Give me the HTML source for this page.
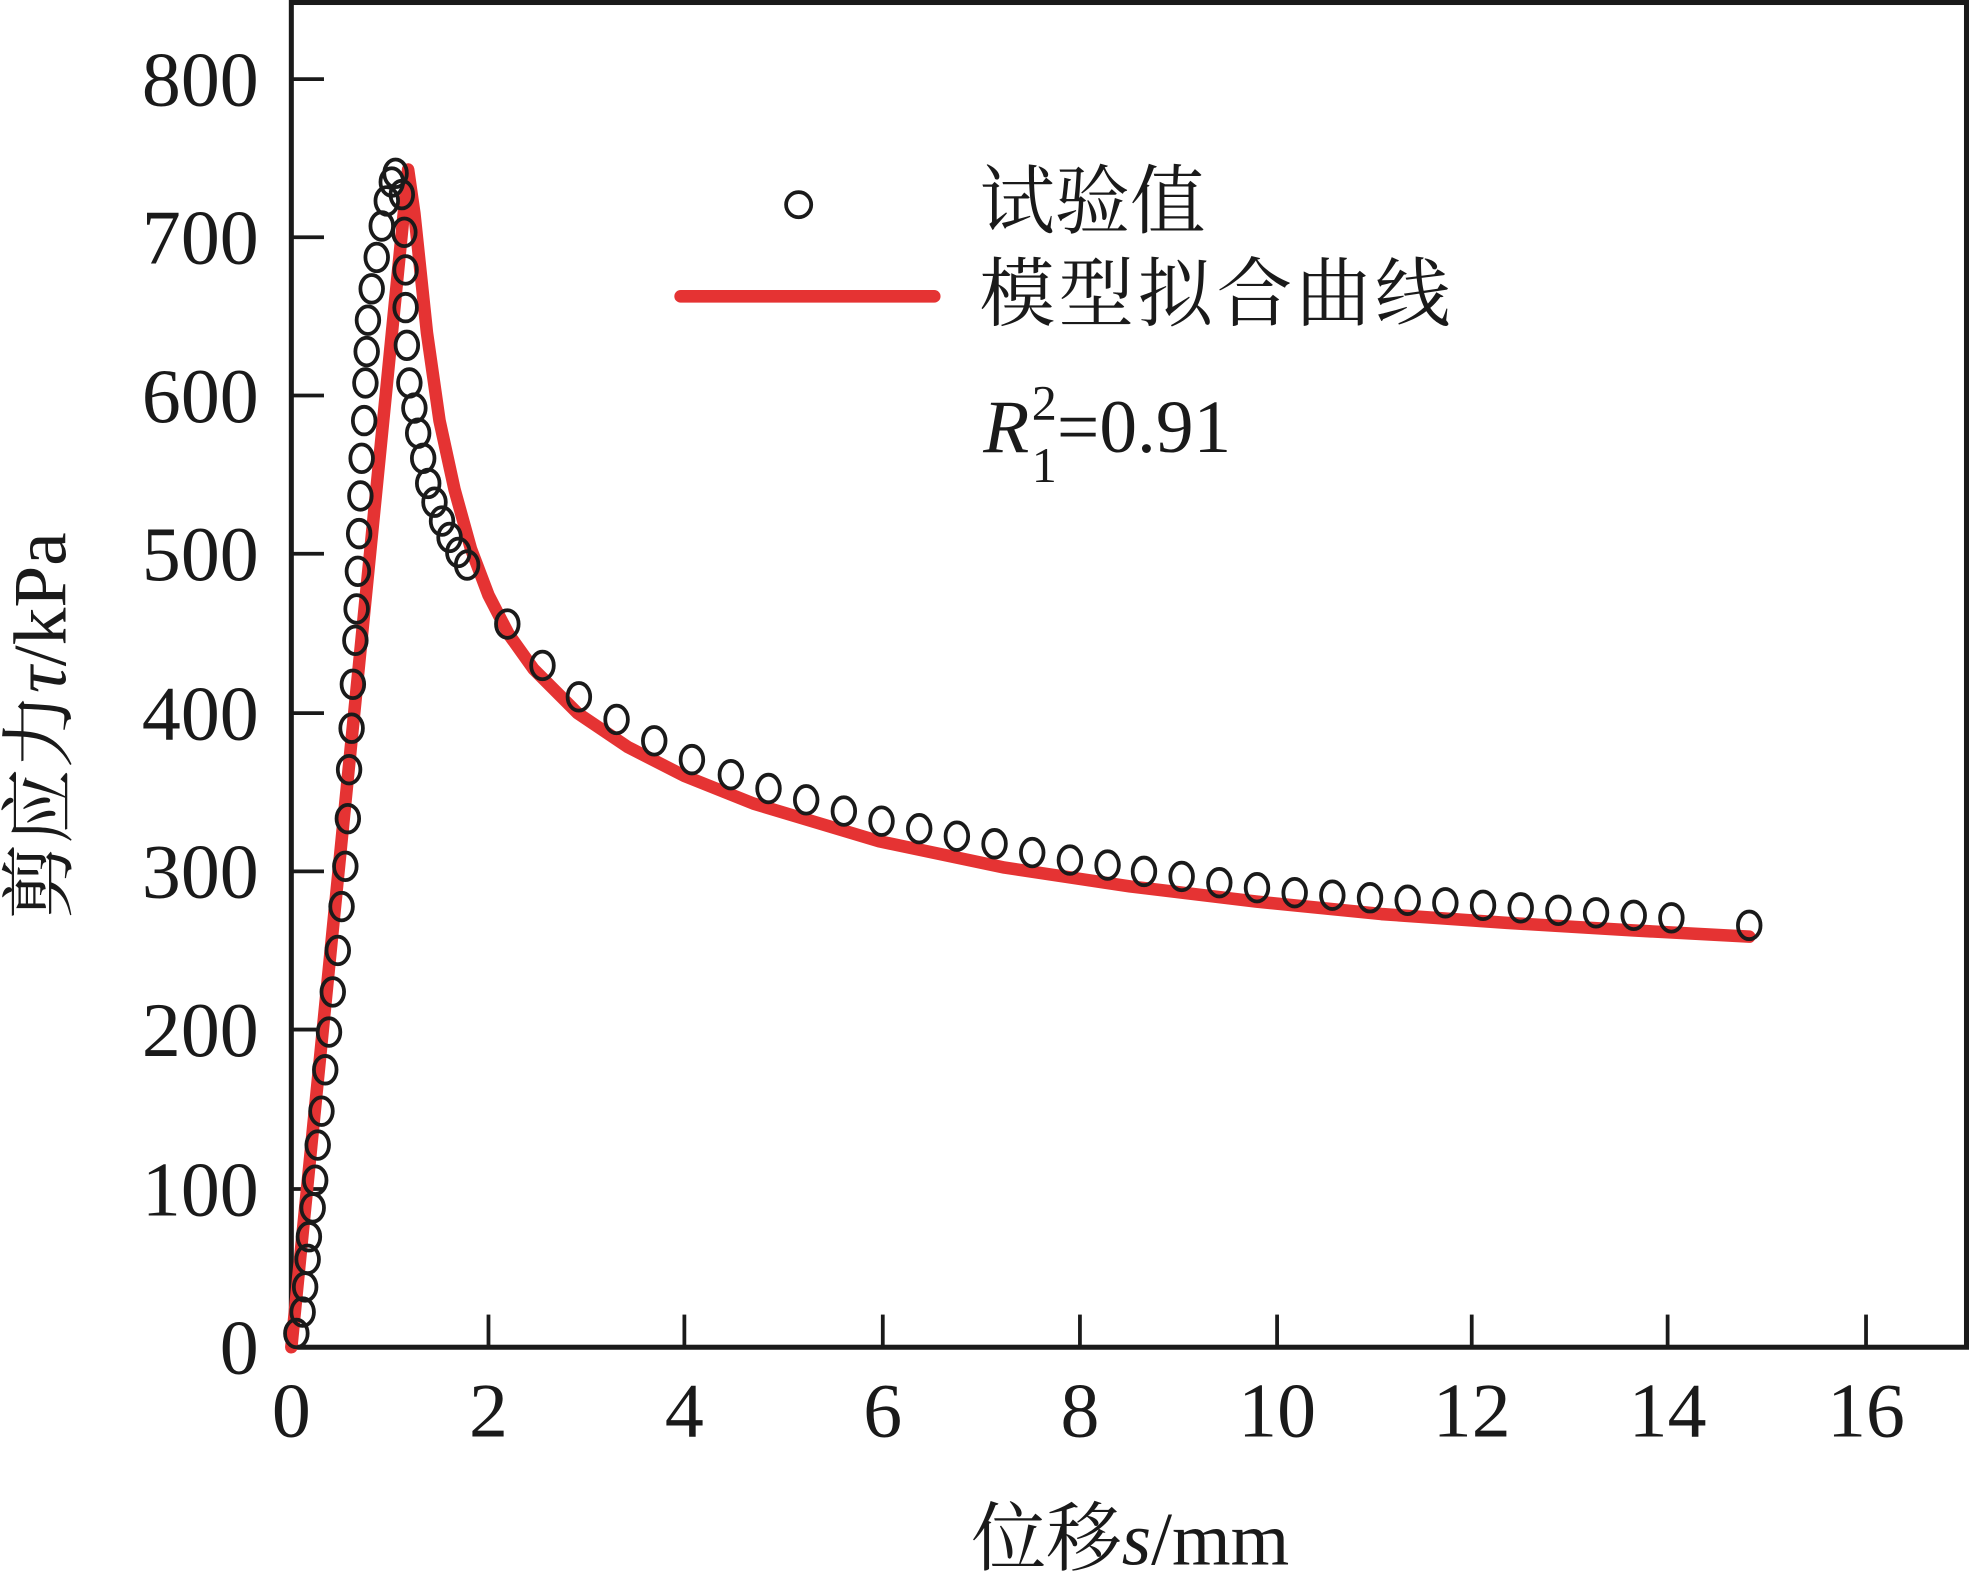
<!DOCTYPE html>
<html><head><meta charset="utf-8"><style>
html,body{margin:0;padding:0;background:#fff;}
svg{display:block;}
text{font-family:"Liberation Serif","Times New Roman",serif;fill:#1a1a1a;}
.cjk{font-family:"Noto Serif CJK SC","Liberation Serif",serif;}
</style></head><body>
<svg width="1969" height="1577" viewBox="0 0 1568 1256" preserveAspectRatio="none" xmlns="http://www.w3.org/2000/svg">
<rect width="1568" height="1256" fill="#fff"/>
<rect x="232" y="2" width="1334" height="1071" fill="none" stroke="#1a1a1a" stroke-width="4"/>
<g stroke="#1a1a1a" stroke-width="3">
<line x1="232" y1="63" x2="258" y2="63"/><line x1="232" y1="189" x2="258" y2="189"/>
<line x1="232" y1="315" x2="258" y2="315"/><line x1="232" y1="441" x2="258" y2="441"/>
<line x1="232" y1="568" x2="258" y2="568"/><line x1="232" y1="694" x2="258" y2="694"/>
<line x1="232" y1="820" x2="258" y2="820"/><line x1="232" y1="947" x2="258" y2="947"/>
<line x1="389" y1="1073" x2="389" y2="1047"/><line x1="545" y1="1073" x2="545" y2="1047"/>
<line x1="703" y1="1073" x2="703" y2="1047"/><line x1="860" y1="1073" x2="860" y2="1047"/>
<line x1="1017" y1="1073" x2="1017" y2="1047"/><line x1="1172" y1="1073" x2="1172" y2="1047"/>
<line x1="1328" y1="1073" x2="1328" y2="1047"/><line x1="1486" y1="1073" x2="1486" y2="1047"/>
</g>
<g font-size="62" text-anchor="end">
<text x="206" y="84">800</text><text x="206" y="210">700</text><text x="206" y="336">600</text>
<text x="206" y="462">500</text><text x="206" y="589">400</text><text x="206" y="715">300</text>
<text x="206" y="841">200</text><text x="206" y="968">100</text><text x="206" y="1094">0</text>
</g>
<g font-size="62" text-anchor="middle">
<text x="232" y="1144">0</text><text x="389" y="1144">2</text><text x="545" y="1144">4</text>
<text x="703" y="1144">6</text><text x="860" y="1144">8</text><text x="1017" y="1144">10</text>
<text x="1172" y="1144">12</text><text x="1328" y="1144">14</text><text x="1486" y="1144">16</text>
</g>
<text x="900" y="1246" font-size="60" text-anchor="middle"><tspan class="cjk">位移</tspan><tspan font-style="italic">s</tspan>/mm</text>
<text transform="translate(52,578) rotate(-90)" font-size="60" text-anchor="middle"><tspan class="cjk">剪应力</tspan><tspan font-style="italic">τ</tspan>/kPa</text>
<path d="M232,1073 L325,135 L330,170 L340,265 L350,335 L362,390 L375,437 L389,474 L405,505 L425,533 L460,568 L500,595 L545,618 L600,640 L700,670 L800,691 L900,706 L1000,718 L1100,728 L1200,735 L1300,741 L1393,746" fill="none" stroke="#e53333" stroke-width="10" stroke-linejoin="round" stroke-linecap="round"/>
<g fill="none" stroke="#1a1a1a" stroke-width="3">
<ellipse cx="236" cy="1062" rx="9" ry="11"/><ellipse cx="241" cy="1045" rx="9" ry="11"/><ellipse cx="243" cy="1025" rx="9" ry="11"/><ellipse cx="245" cy="1003" rx="9" ry="11"/><ellipse cx="246" cy="985" rx="9" ry="11"/><ellipse cx="249" cy="962" rx="9" ry="11"/><ellipse cx="251" cy="940" rx="9" ry="11"/><ellipse cx="253" cy="912" rx="9" ry="11"/><ellipse cx="256" cy="885" rx="9" ry="11"/><ellipse cx="259" cy="852" rx="9" ry="11"/><ellipse cx="262" cy="822" rx="9" ry="11"/><ellipse cx="265" cy="790" rx="9" ry="11"/><ellipse cx="269" cy="757" rx="9" ry="11"/><ellipse cx="272" cy="722" rx="9" ry="11"/><ellipse cx="275" cy="690" rx="9" ry="11"/><ellipse cx="277" cy="652" rx="9" ry="11"/><ellipse cx="278" cy="613" rx="9" ry="11"/><ellipse cx="280" cy="580" rx="9" ry="11"/><ellipse cx="281" cy="545" rx="9" ry="11"/><ellipse cx="283" cy="510" rx="9" ry="11"/><ellipse cx="284" cy="485" rx="9" ry="11"/><ellipse cx="285" cy="455" rx="9" ry="11"/><ellipse cx="286" cy="425" rx="9" ry="11"/><ellipse cx="287" cy="395" rx="9" ry="11"/><ellipse cx="288" cy="365" rx="9" ry="11"/><ellipse cx="290" cy="335" rx="9" ry="11"/><ellipse cx="291" cy="305" rx="9" ry="11"/><ellipse cx="292" cy="280" rx="9" ry="11"/><ellipse cx="293" cy="255" rx="9" ry="11"/><ellipse cx="296" cy="230" rx="9" ry="11"/><ellipse cx="300" cy="205" rx="9" ry="11"/><ellipse cx="304" cy="180" rx="9" ry="11"/><ellipse cx="308" cy="160" rx="9" ry="11"/><ellipse cx="312" cy="145" rx="9" ry="11"/><ellipse cx="315" cy="138" rx="9" ry="11"/>
<ellipse cx="320" cy="155" rx="9" ry="11"/><ellipse cx="322" cy="185" rx="9" ry="11"/><ellipse cx="323" cy="215" rx="9" ry="11"/><ellipse cx="323" cy="245" rx="9" ry="11"/><ellipse cx="324" cy="275" rx="9" ry="11"/><ellipse cx="326" cy="305" rx="9" ry="11"/><ellipse cx="330" cy="325" rx="9" ry="11"/><ellipse cx="333" cy="345" rx="9" ry="11"/><ellipse cx="337" cy="365" rx="9" ry="11"/><ellipse cx="341" cy="385" rx="9" ry="11"/><ellipse cx="346" cy="400" rx="9" ry="11"/><ellipse cx="352" cy="415" rx="9" ry="11"/><ellipse cx="358" cy="428" rx="9" ry="11"/><ellipse cx="365" cy="440" rx="9" ry="11"/><ellipse cx="372" cy="450" rx="9" ry="11"/>
<ellipse cx="404" cy="497" rx="9" ry="11"/><ellipse cx="432" cy="530" rx="9" ry="11"/><ellipse cx="461" cy="555" rx="9" ry="11"/><ellipse cx="491" cy="573" rx="9" ry="11"/><ellipse cx="521" cy="590" rx="9" ry="11"/><ellipse cx="551" cy="605" rx="9" ry="11"/><ellipse cx="582" cy="617" rx="9" ry="11"/><ellipse cx="612" cy="628" rx="9" ry="11"/><ellipse cx="642" cy="637" rx="9" ry="11"/><ellipse cx="672" cy="646" rx="9" ry="11"/><ellipse cx="702" cy="654" rx="9" ry="11"/><ellipse cx="732" cy="660" rx="9" ry="11"/><ellipse cx="762" cy="666" rx="9" ry="11"/><ellipse cx="792" cy="672" rx="9" ry="11"/><ellipse cx="822" cy="679" rx="9" ry="11"/><ellipse cx="852" cy="685" rx="9" ry="11"/><ellipse cx="882" cy="689" rx="9" ry="11"/><ellipse cx="911" cy="694" rx="9" ry="11"/><ellipse cx="941" cy="698" rx="9" ry="11"/><ellipse cx="971" cy="703" rx="9" ry="11"/><ellipse cx="1001" cy="707" rx="9" ry="11"/><ellipse cx="1031" cy="711" rx="9" ry="11"/><ellipse cx="1061" cy="713" rx="9" ry="11"/><ellipse cx="1091" cy="715" rx="9" ry="11"/><ellipse cx="1121" cy="717" rx="9" ry="11"/><ellipse cx="1151" cy="719" rx="9" ry="11"/><ellipse cx="1181" cy="721" rx="9" ry="11"/><ellipse cx="1211" cy="723" rx="9" ry="11"/><ellipse cx="1241" cy="725" rx="9" ry="11"/><ellipse cx="1271" cy="727" rx="9" ry="11"/><ellipse cx="1301" cy="729" rx="9" ry="11"/><ellipse cx="1331" cy="731" rx="9" ry="11"/><ellipse cx="1393" cy="737" rx="9" ry="11"/>
<ellipse cx="636" cy="163" rx="10" ry="10"/>
</g>
<line x1="542" y1="236" x2="744" y2="236" stroke="#e53333" stroke-width="10" stroke-linecap="round"/>
<text class="cjk" x="780" y="181" font-size="60">试验值</text>
<text class="cjk" x="780" y="255" font-size="60" letter-spacing="3">模型拟合曲线</text>
<text x="783" y="360" font-size="60"><tspan font-style="italic">R</tspan><tspan font-size="40" dx="2" dy="-26">2</tspan><tspan font-size="40" dx="-20" dy="50">1</tspan><tspan dy="-24">=0.91</tspan></text>
</svg>
</body></html>
